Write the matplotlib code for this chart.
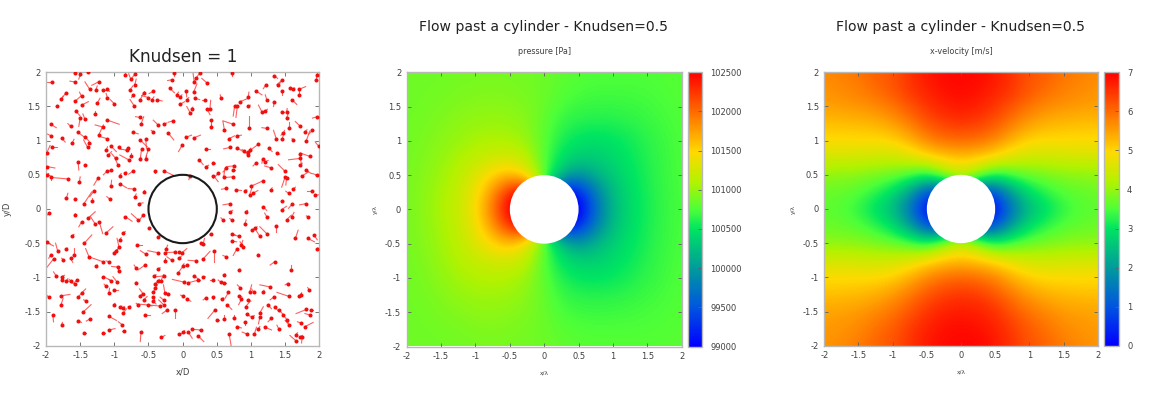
import matplotlib
matplotlib.use('Agg')
import matplotlib.pyplot as plt
from matplotlib.colors import LinearSegmentedColormap
from matplotlib.patches import Circle
import numpy as np

# particle positions (x/D, y/D) and the short tail of each one
part_x = [-1.91,-1.58,-1.57,-1.50,-1.38,-1.23,-1.36,-1.27,-1.71,-1.78,
 -1.84,-1.57,-1.48,-1.48,-1.16,-1.10,-1.10,-1.25,-1.00,-1.56,
 -1.50,-1.43,-1.29,-1.10,-1.17,-1.23,-1.64,-1.93,-1.92,-1.77,
 -1.62,-1.53,-1.43,-1.37,-1.39,-1.11,-1.91,-1.99,-1.12,-1.05,
 -.93,-.82,-.80,-1.09,-.98,-.95,-.79,-.75,-1.53,-1.43,
 -1.98,-1.99,-1.92,-1.68,-1.51,-1.24,-1.10,-1.05,-1.05,-1.30,
 -1.45,-1.33,-1.70,-1.58,-1.06,-.92,-.85,-.72,-.92,-.71,
 -.56,-.70,-.64,-.40,-.28,.11,-.84,-.76,-.70,-.70,
 -.77,-.72,-.71,-.62,-.57,-.50,-.43,-.45,-.38,-.61,
 -.62,-.36,-.28,-.14,-.72,-.43,-.21,-.62,-.54,-.60,
 -.50,-.63,-.54,-.01,.05,.16,-.16,-.13,-.19,-.09,
 -.04,.05,.16,.25,.20,.35,.17,-.04,.06,.18,
 .32,.13,.11,.36,.41,.41,.40,.56,.72,.34,
 .69,.68,.79,.61,.74,.97,.84,.96,.76,.80,
 .96,1.07,1.23,1.34,1.22,1.34,1.46,1.40,1.45,1.57,
 1.62,1.70,1.71,1.60,1.96,1.95,1.16,1.21,1.45,1.52,
 1.52,1.23,1.37,1.47,1.46,1.62,1.55,1.72,1.90,1.79,
 1.81,1.99,1.97,.96,1.11,.98,.90,.95,1.26,1.38,
 .80,.24,.34,.45,.75,.64,.52,.45,.73,.73,
 .60,1.08,1.17,1.21,1.30,1.50,1.72,1.72,1.86,1.72,
 1.81,1.74,1.96,1.50,1.52,1.17,1.0,.64,.78,.91,
 .98,1.03,1.29,1.55,1.62,1.89,1.94,1.45,.70,1.18,
 1.81,1.60,1.45,-1.95,-1.58,-1.48,-1.38,-1.28,-1.22,-1.12,
 -.84,-.65,-.58,-1.62,-.87,-1.44,-1.99,-1.83,-1.71,-1.59,
 -1.64,-1.75,-1.93,-1.89,-1.37,-1.17,-1.08,-1.27,-1.01,-.98,
 -.93,-.92,-.95,-.93,-.67,-.54,-.36,-.49,-.36,-.68,
 -.55,-.69,-.36,-.42,-.28,-.32,-.36,-.40,-.40,-.58,
 -.62,-.43,-.26,-.21,-.66,-.57,-.44,-.43,-.50,-.33,
 -.28,-.28,-.55,-.23,-.11,-.24,-.26,-.11,-.26,-.16,
 -.06,-.01,-.05,0,.06,-.07,.20,.30,.46,.64,
 .27,.30,.42,.72,.83,.72,.86,.79,.89,1.10,
 1.35,1.58,.83,1.01,1.13,1.23,1.06,1.37,1.65,1.83,
 1.92,1.97,.92,.91,.69,.59,.72,1.52,1.60,1.84,
 1.23,.17,.02,.08,.23,.30,.45,.61,.56,.61,
 .67,0,.06,.34,.45,.57,.65,.47,.51,.60,
 .75,.84,.83,.98,1.04,1.18,1.28,.96,.92,.86,
 .94,1.01,1.13,1.13,1.33,1.25,1.35,1.41,1.47,1.52,
 1.30,1.56,1.54,1.71,1.73,1.85,1.81,1.88,1.86,1.79,
 1.73,1.56,.79,.94,.91,1.05,1.11,1.21,1.41,1.66,
 1.66,1.72,1.75,.68,-.05,0,.08,.14,.27,.23,
 -.31,-.61,-1.90,-1.77,-1.96,-1.78,-1.78,-1.53,-1.36,-1.46,
 -1.41,-1.48,-1.53,-1.45,-1.16,-1.08,-.89,-.86,-1.08,-1.01,
 -.92,-.87,-.87,-.78,-1.16,-1.05,-.96,-1.12,-1.08,-1.01,
 -1.85,-1.77,-1.76,-1.70,-1.63,-1.58,-1.55]
part_y = [1.86,1.86,1.99,1.97,2.0,1.86,1.75,1.74,1.70,1.61,
 1.51,1.58,1.65,1.52,1.74,1.75,1.62,1.55,1.54,1.43,
 1.33,1.31,1.39,1.30,1.20,1.08,1.21,1.24,1.07,1.04,
 .96,1.12,1.06,.97,.90,1.03,.91,.82,.86,.92,
 .90,.86,.89,.79,.74,.65,.72,.77,.69,.65,
 .62,.50,.47,.44,.40,.45,.56,.57,.33,.26,
 .07,.12,.16,.14,.14,.49,.52,.56,.37,.29,
 .25,.18,.08,.55,.56,.49,1.96,1.90,1.97,1.82,
 1.74,1.67,1.51,1.60,1.69,1.63,1.72,1.60,1.60,1.24,
 1.34,1.23,1.24,1.29,1.12,1.13,1.11,1.01,1.02,.88,
 .88,.73,.73,.93,1.05,1.04,1.89,1.99,1.77,1.67,
 1.64,1.73,1.71,1.99,1.91,1.85,1.86,1.53,1.60,1.62,
 1.60,1.47,1.41,1.46,1.30,1.20,1.47,1.62,1.99,.88,
 .90,1.03,1.07,1.16,1.24,1.19,1.57,1.64,1.50,1.50,
 1.50,1.73,1.60,1.57,1.82,1.95,1.89,1.81,1.72,1.77,
 1.76,1.75,1.67,1.60,1.96,1.89,1.42,1.43,1.42,1.42,
 1.33,1.18,1.03,1.11,1.03,1.01,1.19,1.21,1.15,1.13,
 1.0,.92,1.35,.84,.95,.86,.85,.79,.89,.82,
 .89,.72,.62,.68,.63,.60,.52,.49,.47,.57,
 .47,.68,.73,.69,.60,.55,.74,.80,.77,.64,
 .57,.48,.50,.47,.45,.41,.33,.30,.28,.27,
 .20,.23,.28,.23,.29,.27,.20,.12,.08,.03,
 .08,.07,-.01,-.06,-.09,-.19,-.13,-.22,-.19,-.35,
 -.11,-.16,-.09,-.39,-.35,-.50,-.49,-.61,-.59,-.67,
 -.72,-.74,-.67,-.73,-.70,-.77,-.77,-.84,-.64,-.62,
 -.56,-.45,-.85,-.91,-.53,-.66,-.64,-.28,-.41,-.87,
 -.82,-1.08,-.88,-.98,-.98,-1.06,-1.06,-1.10,-1.16,-1.24,
 -1.27,-1.22,-1.23,-1.25,-1.40,-1.33,-1.29,-1.35,-1.40,-1.42,
 -1.33,-1.40,-1.55,-1.48,-1.48,-.58,-.65,-.63,-.76,-.75,
 -.63,-.64,-.72,-.83,-.82,-.94,-.76,-.73,-.62,-.70,
 -.50,-.51,-.36,-.37,-.40,-.47,-.53,-.59,-.55,-.68,
 -.77,-.89,-.89,-.31,-.40,-.36,-.28,-.25,-.43,-.43,
 -.38,-.59,-.04,-.22,-.05,-.16,-.16,-.16,-.11,-.12,
 -.11,-.98,-1.07,-1.08,-1.04,-1.0,-1.04,-.96,-1.07,-1.08,
 -1.22,-1.27,-1.32,-1.30,-1.29,-1.32,-1.40,-1.48,-1.62,-1.61,
 -1.59,-1.15,-1.27,-1.22,-1.22,-1.22,-1.14,-1.33,-1.43,-1.32,
 -1.54,-1.58,-1.58,-1.52,-1.29,-1.40,-1.43,-1.48,-1.55,-1.62,
 -1.60,-1.28,-1.09,-1.28,-1.26,-1.18,-1.47,-1.48,-1.55,-1.72,
 -1.67,-1.70,-1.72,-1.83,-1.65,-1.83,-1.75,-1.73,-1.76,-1.84,
 -1.93,-1.87,-1.87,-1.83,-1.83,-1.80,-1.80,-1.76,-1.77,-1.86,
 -1.88,-1.80,-1.55,-1.69,-1.29,-1.27,-1.40,-1.64,-1.61,-1.51,
 -1.34,-1.23,-1.29,-1.82,-1.81,-1.77,-1.69,-1.79,-1.57,-1.40,
 -1.44,-1.45,-1.52,-1.44,-.99,-1.06,-1.07,-1.13,-1.23,-1.19,
 -.98,-.99,-1.04,-1.05,-1.06,-1.10,-1.04]
tail_dx = [-.09,-.07,0,-.02,-.02,-.10,-.07,.02,-.07,.03,
 .02,.09,-.03,.10,.05,.03,-.02,.04,-.06,.06,
 -.02,-.03,0,.17,-.11,.07,-.04,.08,-.07,.05,
 .03,.08,.06,.03,-.06,-.10,.07,.05,.02,.08,
 .03,-.10,-.03,.05,-.06,-.04,-.13,0,.01,.02,
 .11,.03,0,-.23,.01,-.06,-.06,-.03,.01,-.06,
 .12,0,.02,.02,-.05,.02,.03,-.07,.10,-.09,
 0,.02,.06,0,.15,-.02,0,-.03,-.04,.02,
 .04,-.03,-.06,.05,0,-.10,-.06,.03,.08,.04,
 -.07,-.07,.05,-.07,.07,-.03,.08,.10,.01,-.02,
 -.05,.02,0,-.05,.08,.10,-.06,0,.07,.03,
 .03,.01,.05,-.05,-.02,-.07,-.02,.07,.03,.07,
 -.03,.02,-.05,.04,0,0,.01,-.01,0,.06,
 -.09,.08,.07,-.02,-.15,0,.12,.01,-.02,-.02,
 .03,.09,-.02,-.01,-.04,.05,-.08,.03,0,.03,
 .02,.10,0,.07,0,0,-.05,.03,.04,.01,
 .02,-.07,-.04,-.03,.03,-.02,0,-.07,-.06,.03,
 .05,-.05,-.07,-.07,-.12,.02,-.03,-.03,.05,.04,
 .09,.06,.04,.03,-.11,-.05,-.07,.07,-.12,.04,
 .02,-.05,-.01,.04,-.10,-.10,-.17,.02,-.14,.03,
 .07,.10,-.07,-.05,-.01,-.13,.03,-.07,.08,.03,
 .03,.07,.02,-.04,.03,-.07,.06,.02,-.11,.05,
 -.10,-.05,.07,-.06,.01,-.04,.10,-.07,.05,.10,
 .10,-.10,-.05,.03,.03,.11,.10,-.03,.02,0,
 .03,-.02,-.03,-.11,-.05,-.20,-.04,.02,.10,.03,
 -.03,.02,-.09,-.03,.07,-.08,-.15,.02,.02,-.03,
 -.10,.01,.03,.03,-.10,.04,.02,.02,.03,-.05,
 .03,.05,-.02,-.03,-.02,.05,.03,.04,.05,-.33,
 -.05,-.07,.07,-.07,0,.02,.02,-.15,0,-.07,
 .03,.07,.03,.02,-.03,.08,-.12,.10,0,-.05,
 .03,.02,-.02,.05,-.09,.07,.02,-.05,-.05,.01,
 -.07,0,.01,.05,-.07,-.10,.03,0,.04,.10,
 .05,.01,.03,.02,.04,-.03,-.03,.07,.03,-.03,
 -.03,.08,-.17,.15,.02,.03,-.05,.01,-.04,.03,
 -.05,-.03,.06,-.04,0,.03,.07,-.10,.02,0,
 0,-.04,.04,.03,-.03,.01,-.15,.04,.06,-.04,
 .05,.04,-.02,.05,-.05,.05,.04,.05,.05,.03,
 -.05,-.18,-.04,.03,.01,-.02,-.15,.03,-.07,.12,
 -.05,-.06,.07,-.07,0,.03,.02,.09,-.03,.02,
 -.09,.03,-.01,.03,.09,.03,.06,.13,-.03,.08,
 .05,-.01,.01,.01,-.03,.13,.03,.05,-.05,.12,
 -.04,.06,.05,.03,.02,.09,-.05,-.03,.11,.02,
 .03,.02,.05,.02,.10,-.03,-.06,-.03,.01,.07,
 -.04,.04,.02,.02,-.03,-.10,-.04]
tail_dy = [0,.01,-.02,-.07,0,-.05,.11,.06,-.10,.04,
 0,.08,.06,.05,0,-.03,.07,.07,.06,-.07,
 -.12,.08,.05,-.06,.03,.15,.04,-.05,.03,-.06,
 .06,-.06,-.07,-.02,.11,.03,0,.11,.05,-.08,
 -.03,.02,-.03,.05,.07,.09,.07,.05,-.12,0,
 -.02,.02,-.05,.02,.07,-.10,-.06,-.02,.09,-.08,
 .18,.04,.07,0,.04,.03,.02,-.05,-.06,.01,
 .03,.04,.01,-.03,-.07,-.06,.04,.08,-.05,.08,
 .06,-.04,.09,.10,.03,.03,-.03,.04,-.02,.11,
 .01,.07,.02,-.02,-.02,.02,-.10,-.10,-.13,-.14,
 -.16,.02,.06,-.09,.03,.04,-.01,-.05,-.07,.04,
 .03,-.09,.12,-.07,-.03,.06,.14,.04,.03,-.02,
 0,.02,.09,-.08,-.09,.04,.12,.05,-.05,0,
 -.02,.04,.01,.12,.05,.17,.05,.07,-.14,-.16,
 .02,-.06,.07,-.07,-.06,-.04,-.07,.04,-.05,0,
 .01,.04,.05,-.07,.03,.05,.10,.03,0,.05,
 .05,.01,.12,-.03,.12,.02,.09,.07,-.06,.03,
 .14,.06,-.02,0,-.09,.03,.02,.04,-.05,-.02,
 -.05,-.07,.02,-.02,-.01,-.06,-.07,-.09,-.01,0,
 .12,-.05,-.06,.02,.03,.10,-.02,-.18,.05,.03,
 -.05,.06,.02,-.15,-.10,-.06,.02,-.01,-.01,.01,
 .10,.04,.03,.03,.03,0,.01,0,-.02,-.05,
 -.02,-.06,.05,-.05,.02,-.07,.09,.11,-.17,.09,
 -.07,.09,-.07,.02,.02,.12,-.05,.11,.02,.10,
 -.06,.02,-.05,-.14,.12,.07,.01,.02,.09,.03,
 .13,.03,.01,.07,0,.05,.03,.01,.02,.05,
 -.07,.01,.02,.02,-.01,.10,.03,.03,.05,.07,
 .03,.11,.12,.02,.02,.05,-.04,-.04,-.02,.03,
 .04,.07,0,-.05,-.11,.05,.02,-.01,.05,.05,
 0,.06,.03,.03,-.02,.11,.01,.11,-.15,.02,
 0,.08,-.02,-.01,.02,-.01,.07,-.09,.07,.01,
 -.05,.07,.01,.03,.11,.10,.02,-.08,.12,-.05,
 -.07,.02,.02,.06,.03,.03,.02,.07,.06,.02,
 .05,-.06,.04,.04,0,.01,0,.01,.03,0,
 -.09,.01,-.03,-.03,-.03,.02,-.07,-.12,0,.06,
 .04,.04,-.02,.11,.05,.03,.03,-.02,.07,-.08,
 -.03,.02,-.10,.09,-.04,-.06,-.05,-.05,-.06,-.05,
 -.05,.06,-.02,.05,.03,.03,-.06,0,.02,.06,
 .02,.07,-.02,.03,-.05,.10,.03,-.04,.06,.03,
 .08,.02,-.09,-.17,.02,.02,-.09,-.01,0,-.08,
 .03,-.14,-.10,.03,.03,.02,.09,-.02,-.03,.11,
 .01,.06,.06,0,0,.02,.04,0,-.06,.02,
 .02,.02,.06,.02,-.05,.03,.08,.03,.07,0,
 .06,.02,.03,.03,.03,.05,-.04]

grid_step = 0.25
grid_x = [-2,-1.75,-1.5,-1.25,-1,-.75,-.5,-.25,0,.25,.5,.75,1,1.25,1.5,1.75,2]

# pressure [Pa], rows from y=2 down to y=-2, estimated from the colours
pressure = [
 [100860,100860,100870,100880,100890,100890,100890,100880,100860,100810,100780,100760,100760,100760,100760,100770,100780],
 [100860,100870,100880,100900,100910,100920,100910,100890,100850,100790,100750,100730,100730,100730,100740,100760,100780],
 [100860,100880,100900,100930,100950,100960,100950,100920,100840,100740,100690,100680,100680,100690,100710,100740,100770],
 [100870,100890,100930,100970,101000,101010,101000,100950,100810,100670,100620,100600,100610,100640,100680,100720,100760],
 [100870,100910,100960,101010,101060,101090,101080,101000,100790,100590,100480,100450,100490,100560,100640,100700,100750],
 [100880,100930,100990,101070,101160,101230,101250,101150,100780,100470,100350,100340,100420,100520,100620,100690,100750],
 [100890,100950,101030,101140,101300,101500,101620,101350,100800,100250,99950,100170,100330,100480,100600,100690,100740],
 [100890,100960,101060,101180,101400,101800,102300,102600,100800,99000,99200,99800,100240,100440,100590,100680,100740],
 [100890,100970,101080,101200,101450,101950,102600,102900,100750,98700,98900,99650,100200,100430,100580,100680,100730],
 [100890,100960,101060,101180,101400,101800,102300,102600,100800,99000,99200,99800,100240,100440,100590,100680,100740],
 [100890,100950,101040,101150,101310,101510,101640,101350,100800,100250,99950,100170,100340,100490,100600,100690,100740],
 [100880,100930,101010,101100,101190,101260,101270,101150,100780,100470,100360,100350,100440,100530,100630,100700,100750],
 [100870,100910,100980,101050,101100,101120,101100,101010,100800,100600,100500,100480,100520,100590,100660,100710,100760],
 [100870,100890,100940,100990,101030,101040,101020,100960,100820,100680,100630,100620,100630,100660,100700,100730,100770],
 [100860,100880,100910,100940,100970,100980,100960,100920,100840,100740,100700,100690,100700,100710,100730,100750,100780],
 [100860,100870,100880,100900,100920,100930,100920,100890,100850,100790,100760,100750,100750,100750,100760,100770,100780],
 [100860,100860,100870,100880,100890,100900,100890,100880,100860,100820,100790,100780,100780,100780,100780,100780,100790],
]

# x-velocity [m/s], same grid
velocity = [
 [5.7,5.8,5.9,6.1,6.2,6.5,6.8,6.9,6.95,6.9,6.8,6.5,6.2,6.1,5.9,5.8,5.7],
 [5.6,5.7,5.8,6.0,6.2,6.5,6.7,6.85,6.9,6.85,6.7,6.5,6.2,6.0,5.8,5.7,5.6],
 [5.5,5.55,5.6,5.7,5.9,6.2,6.5,6.7,6.8,6.7,6.5,6.2,5.9,5.7,5.6,5.55,5.5],
 [5.2,5.2,5.25,5.3,5.5,5.8,6.2,6.4,6.5,6.4,6.2,5.8,5.5,5.3,5.25,5.2,5.2],
 [4.95,4.95,4.95,4.95,5.0,5.3,5.7,5.95,6.0,5.95,5.7,5.3,5.0,4.95,4.95,4.95,4.95],
 [4.5,4.5,4.5,4.45,4.45,4.6,4.9,5.1,5.2,5.1,4.9,4.6,4.45,4.45,4.5,4.5,4.5],
 [3.95,3.95,3.9,3.8,3.7,3.5,3.2,4.0,4.4,4.0,3.2,3.5,3.7,3.8,3.9,3.95,3.95],
 [3.7,3.65,3.55,3.3,2.9,2.1,1.0,0.5,3.0,0.5,1.0,2.1,2.9,3.3,3.55,3.65,3.7],
 [3.6,3.55,3.3,2.9,2.4,1.5,0,0,0,0,0,1.5,2.4,2.9,3.3,3.55,3.6],
 [3.7,3.65,3.55,3.3,2.9,2.1,1.0,0.5,3.0,0.5,1.0,2.1,2.9,3.3,3.55,3.65,3.7],
 [3.95,3.95,3.9,3.8,3.7,3.5,3.2,4.0,4.4,4.0,3.2,3.5,3.7,3.8,3.9,3.95,3.95],
 [4.5,4.5,4.5,4.45,4.5,4.65,4.95,5.15,5.25,5.15,4.95,4.65,4.5,4.45,4.5,4.5,4.5],
 [4.95,4.95,4.95,4.95,5.05,5.35,5.7,5.95,6.05,5.95,5.75,5.35,5.05,4.95,4.95,4.95,4.95],
 [5.2,5.2,5.25,5.35,5.55,5.85,6.2,6.4,6.5,6.45,6.2,5.85,5.55,5.35,5.25,5.2,5.2],
 [5.45,5.5,5.55,5.7,5.9,6.2,6.5,6.7,6.75,6.7,6.55,6.2,5.9,5.7,5.55,5.5,5.45],
 [5.55,5.6,5.7,5.95,6.15,6.45,6.7,6.85,6.9,6.85,6.7,6.45,6.15,5.95,5.7,5.6,5.55],
 [5.6,5.7,5.85,6.05,6.2,6.5,6.8,6.9,6.95,6.95,6.8,6.5,6.2,6.05,5.85,5.7,5.6],
]

pressure_ticks = [99000,99500,100000,100500,101000,101500,102000,102500]
velocity_ticks = [0,1,2,3,4,5,6,7]
axis_ticks = [-2,-1.5,-1,-.5,0,.5,1,1.5,2]
text_col = '#404040'
frame_col = '#b8b8b8'
W, H = 1170, 419

rainbow = LinearSegmentedColormap.from_list('pm3d_like', [
    (0.00, (0.00,0.00,1.00)),
    (0.14, (0.00,0.33,0.88)),
    (0.28, (0.00,0.60,0.62)),
    (0.43, (0.00,0.90,0.38)),
    (0.50, (0.30,1.00,0.22)),
    (0.60, (0.70,0.95,0.00)),
    (0.71, (1.00,0.85,0.00)),
    (0.85, (1.00,0.44,0.00)),
    (1.00, (1.00,0.00,0.00))])


def box(left, top, right, bottom):
    return [left/W, 1-bottom/H, (right-left)/W, (bottom-top)/H]


def style_axes(ax, labelsize=6.0):
    ax.set_xlim(-2,2)
    ax.set_ylim(-2,2)
    ax.set_xticks(axis_ticks)
    ax.set_yticks(axis_ticks)
    ax.set_xticklabels(['%g' % t for t in axis_ticks])
    ax.set_yticklabels(['%g' % t for t in axis_ticks])
    ax.tick_params(direction='in', length=3.2, width=.6, color='#606060', labelcolor=text_col,
                   labelsize=labelsize, pad=4, top=True, right=True)
    for s in ax.spines.values():
        s.set_color(frame_col)
        s.set_linewidth(1.0)


def field_panel(axbox, cbbox, field, vmin, vmax, ticks, name):
    ax = fig.add_axes(box(*axbox))
    half = grid_step/2
    im = ax.imshow(field, cmap=rainbow, vmin=vmin, vmax=vmax, interpolation='bicubic', aspect='auto',
                   extent=[grid_x[0]-half, grid_x[-1]+half, grid_x[0]-half, grid_x[-1]+half])
    ax.add_patch(Circle((0,0), 0.5, fc='white', ec='none', zorder=3))
    style_axes(ax)
    ax.set_xlabel('x/λ', fontsize=4.2, color=text_col, labelpad=7)
    ax.set_ylabel('y/λ', fontsize=4.2, color=text_col, labelpad=5)
    ax.set_title(name, fontsize=5.8, color=text_col, pad=13)
    cax = fig.add_axes(box(*cbbox))
    cb = fig.colorbar(im, cax=cax)
    cb.set_ticks(ticks)
    cb.set_ticklabels(['%d' % t for t in ticks])
    cb.ax.tick_params(direction='in', length=3.2, width=.6, color='#606060', labelcolor=text_col,
                      labelsize=6.0, pad=6)
    cb.outline.set_edgecolor(frame_col)
    cb.outline.set_linewidth(1.0)
    return ax


fig = plt.figure(figsize=(W/100, H/100), dpi=100, facecolor='white')

# left panel: particles and cylinder
ax0 = fig.add_axes(box(46, 72.3, 319.3, 345.7))
px = np.array(part_x)
py = np.array(part_y)
ax0.plot([px, px+np.array(tail_dx)], [py, py+np.array(tail_dy)], color='#ff3838', lw=.8, alpha=.8, zorder=2)
ax0.plot(px, py, 'o', color='#f01010', ms=2.9, mew=0, zorder=3)
ax0.add_patch(Circle((0,0), 0.5, fc='none', ec='#1a1a1a', lw=1.5, zorder=4))
style_axes(ax0)
ax0.set_xlabel('x/D', fontsize=6.0, color=text_col, labelpad=5)
ax0.set_ylabel('y/D', fontsize=6.0, color=text_col, labelpad=9)
fig.text(183/W, 1-57/H, 'Knudsen = 1', ha='center', va='center', fontsize=12.2, color='#222222')

field_panel((406.7,72.3,681.7,346.5), (687.7,72.3,702,346.5), pressure, 99000, 102500, pressure_ticks, 'pressure [Pa]')
fig.text(543.5/W, 1-27.5/H, 'Flow past a cylinder - Knudsen=0.5', ha='center', va='center', fontsize=10.1, color='#222222')

field_panel((824.3,72.3,1097.7,345.7), (1104.3,72.3,1118.7,345.7), velocity, 0, 7, velocity_ticks, 'x-velocity [m/s]')
fig.text(960.5/W, 1-27.5/H, 'Flow past a cylinder - Knudsen=0.5', ha='center', va='center', fontsize=10.1, color='#222222')

plt.savefig('out.png', dpi=100)
plt.close(fig)
